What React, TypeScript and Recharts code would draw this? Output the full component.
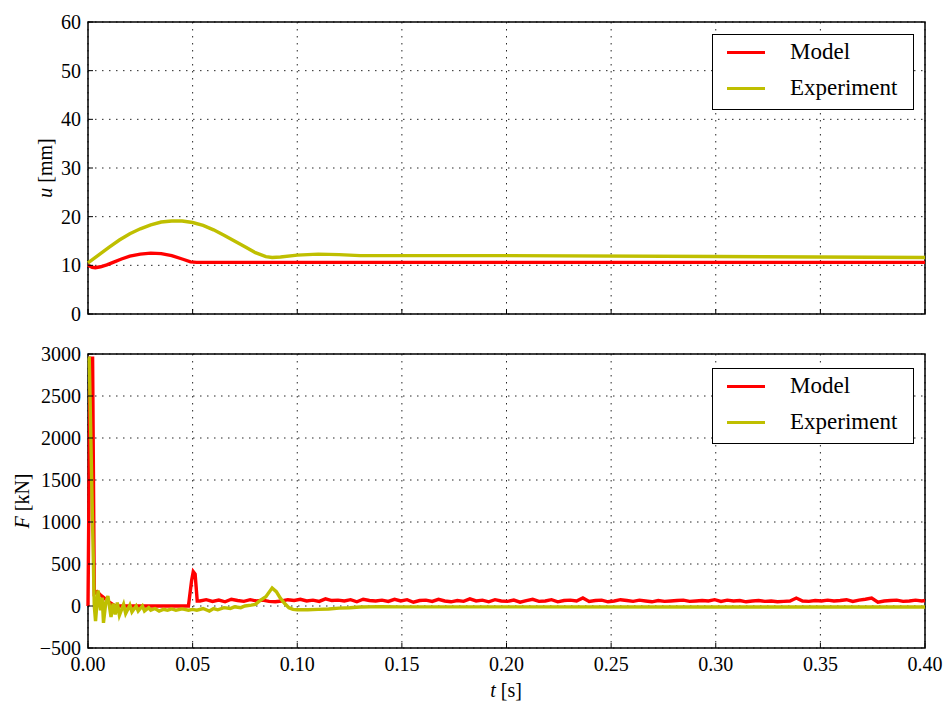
import React from 'react';
import { LineChart, Line, XAxis, YAxis, CartesianGrid, ReferenceArea } from 'recharts';

const FONT = 'Liberation Serif, DejaVu Serif, serif';
const RED = '#ff0000';
const YEL = '#bfbf00';
const LW = 3.4;

const xTicks = [0, 0.05, 0.1, 0.15, 0.2, 0.25, 0.3, 0.35, 0.4];
const uTicks = [0, 10, 20, 30, 40, 50, 60];
const fTicks = [-500, 0, 500, 1000, 1500, 2000, 2500, 3000];

// Top panel: displacement u [mm]
const uModelT = [0, 0.002, 0.0035, 0.006, 0.009, 0.012, 0.016, 0.02, 0.025, 0.03, 0.035, 0.04, 0.045, 0.049, 0.052, 0.1, 0.2, 0.3, 0.4];
const uModelV = [10.0, 9.6, 9.5, 9.7, 10.1, 10.6, 11.3, 11.9, 12.3, 12.5, 12.4, 12.0, 11.3, 10.7, 10.6, 10.6, 10.6, 10.6, 10.6];

const uExpT = [0, 0.005, 0.01, 0.015, 0.02, 0.025, 0.03, 0.035, 0.04, 0.045, 0.05, 0.055, 0.06, 0.065, 0.07, 0.075, 0.08, 0.085, 0.088, 0.092, 0.1, 0.11, 0.12, 0.13, 0.2, 0.3, 0.4];
const uExpV = [10.5, 12.1, 13.7, 15.2, 16.5, 17.5, 18.3, 18.9, 19.1, 19.1, 18.8, 18.2, 17.3, 16.2, 15.0, 13.8, 12.6, 11.8, 11.6, 11.7, 12.1, 12.3, 12.2, 12.0, 12.0, 11.8, 11.6];

// Bottom panel: force F [kN]
const fModelHeadT = [0, 0.001, 0.0022, 0.003, 0.0043, 0.006, 0.008, 0.01, 0.012, 0.013, 0.03, 0.048, 0.0495, 0.0503, 0.0512, 0.0522];
const fModelHeadV = [0, 2950, 2950, 150, 170, 130, 90, 50, 15, 0, 0, 0, 300, 410, 380, 60];
const fModelNoiseStart = 0.0535;
const fModelNoiseStep = 0.003;
const fModelNoiseV = [
  60, 75, 55, 70, 50, 80, 65, 55, 75, 60,
  70, 55, 50, 60, 75, 65, 80, 60, 70, 55,
  85, 65, 70, 60, 75, 50, 80, 65, 60, 70,
  55, 80, 60, 75, 45, 65, 70, 55, 80, 60,
  50, 65, 55, 85, 60, 70, 50, 75, 60, 55,
  70, 45, 65, 80, 55, 60, 75, 50, 65, 70,
  60, 95, 55, 65, 70, 50, 60, 75, 65, 55,
  70, 60, 50, 65, 55, 60, 65, 70, 55, 60,
  65, 60, 75, 55, 70, 60, 65, 50, 60, 65,
  55, 60, 50, 55, 60, 95, 60, 55, 65, 60,
  70, 60, 65, 75, 55, 70, 80, 95, 45, 60,
  65, 70, 55, 60, 70, 60,
];

const fExpT = [0, 0.0006, 0.002, 0.003, 0.0036, 0.0048, 0.006, 0.0068, 0.0074, 0.0085, 0.0095, 0.011, 0.012, 0.013, 0.014, 0.015, 0.017, 0.018, 0.02, 0.021, 0.023, 0.024, 0.026, 0.027, 0.029, 0.03, 0.032, 0.034, 0.036, 0.038, 0.04, 0.042, 0.045, 0.048, 0.05, 0.052, 0.055, 0.058, 0.06, 0.062, 0.065, 0.068, 0.07, 0.073, 0.075, 0.078, 0.08, 0.082, 0.085, 0.087, 0.088, 0.09, 0.092, 0.094, 0.096, 0.098, 0.1, 0.105, 0.11, 0.115, 0.12, 0.125, 0.13, 0.14, 0.15, 0.2, 0.3, 0.4];
const fExpV = [2950, 2950, 1200, 0, -180, 185, -50, 100, -200, 40, 120, -130, 30, -100, 40, -110, 20, -90, 10, -70, 0, -60, 0, -60, -20, -50, -30, -60, -40, -50, -35, -50, -35, -50, -40, -50, -30, -60, -30, -45, -20, -30, -10, -20, 0, 10, 20, 60, 110, 180, 215, 170, 90, 30, -20, -40, -45, -45, -40, -35, -25, -20, -12, -8, -10, -10, -12, -12];

const pairs = (ts: number[], vs: number[]) => ts.map((t, i) => ({ t, v: vs[i] }));

const uModelData = pairs(uModelT, uModelV);
const uExpData = pairs(uExpT, uExpV);
const fModelData = [
  ...pairs(fModelHeadT, fModelHeadV),
  ...fModelNoiseV.map((v, i) => ({ t: fModelNoiseStart + i * fModelNoiseStep, v })),
  { t: 0.4, v: 65 },
];
const fExpData = pairs(fExpT, fExpV);

const fmtF = (v: number) => (v < 0 ? '\u2212' + Math.abs(v) : String(v));
const fmtT = (v: number) => v.toFixed(2);
const fmtU = (v: number) => String(v);

const TICK = 5;
const Y_MARGIN = 7;
const X_MARGIN = 9;
const textStyle = { fontFamily: FONT, fontSize: 20 };

const LeftTick = (p: any, fmt: (v: number) => string) => (
  <g key={`l-${p.index}`}>
    <line x1={p.x + Y_MARGIN} x2={p.x + Y_MARGIN + TICK} y1={p.y} y2={p.y} stroke="#000" strokeWidth={1} />
    <text x={p.x} y={p.y} textAnchor="end" dominantBaseline="central" fontFamily={FONT} fontSize={20} fill="#000" style={textStyle}>
      {fmt(p.payload.value)}
    </text>
  </g>
);
const RightTick = (p: any) => (
  <line key={`r-${p.index}`} x1={p.x} x2={p.x - TICK} y1={p.y} y2={p.y} stroke="#000" strokeWidth={1} />
);
const BottomTick = (p: any, withLabel: boolean) => (
  <g key={`b-${p.index}`}>
    <line x1={p.x} x2={p.x} y1={p.y - X_MARGIN} y2={p.y - X_MARGIN - TICK} stroke="#000" strokeWidth={1} />
    {withLabel ? (
      <text x={p.x} y={p.y} dy="0.71em" textAnchor="middle" fontFamily={FONT} fontSize={20} fill="#000" style={textStyle}>
        {fmtT(p.payload.value)}
      </text>
    ) : null}
  </g>
);
const TopTick = (p: any) => (
  <line key={`t-${p.index}`} x1={p.x} x2={p.x} y1={p.y} y2={p.y + TICK} stroke="#000" strokeWidth={1} />
);

const LegendBox = ({ left, top }: { left: number; top: number }) => (
  <div
    style={{
      position: 'absolute', left, top, width: 202, height: 76, boxSizing: 'border-box',
      border: '1.5px solid #000', background: '#fff', fontFamily: FONT, fontSize: 23, color: '#000',
    }}
  >
    {[{ name: 'Model', c: RED, y: 17 }, { name: 'Experiment', c: YEL, y: 53 }].map((r) => (
      <React.Fragment key={r.name}>
        <div style={{ position: 'absolute', left: 14, top: r.y - 1.5, width: 38, height: 3, background: r.c }} />
        <div style={{ position: 'absolute', left: 77, top: r.y - 14, lineHeight: '28px', whiteSpace: 'nowrap' }}>{r.name}</div>
      </React.Fragment>
    ))}
  </div>
);

const gridProps = { stroke: '#000', strokeDasharray: '1.5 5.5', strokeWidth: 1, strokeOpacity: 0.85 };

const AxisTitle = ({ x, y, rotate, ital, rest }: { x: number; y: number; rotate: boolean; ital: string; rest: string }) => (
  <text x={x} y={y} transform={rotate ? `rotate(-90 ${x} ${y})` : undefined} textAnchor="middle" dominantBaseline="central"
    fontFamily={FONT} fontSize={20} fill="#000" style={textStyle}>
    <tspan fontStyle="italic">{ital}</tspan>{rest}
  </text>
);

export default function App() {
  return (
    <div style={{ position: 'absolute', left: 0, top: 0, width: 947, height: 704, background: '#fff', fontFamily: FONT }}>
      <div style={{ position: 'absolute', left: 0, top: 0 }}>
        <LineChart width={947} height={330} margin={{ top: 22, right: 22, bottom: 6, left: 28 }}>
          <CartesianGrid {...gridProps} xAxisId="b" yAxisId="l" />
          <XAxis xAxisId="b" dataKey="t" type="number" domain={[0, 0.4]} ticks={xTicks} height={10}
            tick={(p: any) => BottomTick(p, false)} tickLine={false} axisLine={false} tickSize={0} tickMargin={X_MARGIN}
            allowDuplicatedCategory={false} />
          <XAxis xAxisId="t" orientation="top" dataKey="t" type="number" domain={[0, 0.4]} ticks={xTicks} height={0}
            tick={TopTick} tickLine={false} axisLine={false} tickSize={0} tickMargin={0} allowDuplicatedCategory={false} />
          <YAxis yAxisId="l" type="number" domain={[0, 60]} ticks={uTicks} width={60}
            tick={(p: any) => LeftTick(p, fmtU)} tickLine={false} axisLine={false} tickSize={0} tickMargin={Y_MARGIN}
            label={{ content: () => <AxisTitle x={45} y={168} rotate ital="u" rest=" [mm]" /> }} />
          <YAxis yAxisId="r" orientation="right" type="number" domain={[0, 60]} ticks={uTicks} width={0}
            tick={RightTick} tickLine={false} axisLine={false} tickSize={0} tickMargin={0} />
          <Line xAxisId="b" yAxisId="l" data={uModelData} dataKey="v" type="linear" stroke={RED} strokeWidth={LW} dot={false} isAnimationActive={false} />
          <Line xAxisId="b" yAxisId="l" data={uExpData} dataKey="v" type="linear" stroke={YEL} strokeWidth={LW} dot={false} isAnimationActive={false} />
          <ReferenceArea xAxisId="b" yAxisId="l" x1={0} x2={0.4} y1={0} y2={60} fill="none" stroke="#000" strokeWidth={1.5} ifOverflow="visible" />
        </LineChart>
        <LegendBox left={712} top={34} />
      </div>
      <div style={{ position: 'absolute', left: 0, top: 330 }}>
        <LineChart width={947} height={374} margin={{ top: 24, right: 22, bottom: 0, left: 28 }}>
          <CartesianGrid {...gridProps} xAxisId="b" yAxisId="l" />
          <XAxis xAxisId="b" dataKey="t" type="number" domain={[0, 0.4]} ticks={xTicks} height={56}
            tick={(p: any) => BottomTick(p, true)} tickLine={false} axisLine={false}
            tickSize={0} tickMargin={X_MARGIN} allowDuplicatedCategory={false}
            label={{ content: () => <AxisTitle x={506} y={360} rotate={false} ital="t" rest=" [s]" /> }} />
          <XAxis xAxisId="t" orientation="top" dataKey="t" type="number" domain={[0, 0.4]} ticks={xTicks} height={0}
            tick={TopTick} tickLine={false} axisLine={false} tickSize={0} tickMargin={0} allowDuplicatedCategory={false} />
          <YAxis yAxisId="l" type="number" domain={[-500, 3000]} ticks={fTicks} width={60}
            tick={(p: any) => LeftTick(p, fmtF)} tickLine={false} axisLine={false} tickSize={0} tickMargin={Y_MARGIN}
            label={{ content: () => <AxisTitle x={22} y={171} rotate ital="F" rest=" [kN]" /> }} />
          <YAxis yAxisId="r" orientation="right" type="number" domain={[-500, 3000]} ticks={fTicks} width={0}
            tick={RightTick} tickLine={false} axisLine={false} tickSize={0} tickMargin={0} />
          <Line xAxisId="b" yAxisId="l" data={fModelData} dataKey="v" type="linear" stroke={RED} strokeWidth={LW} dot={false} isAnimationActive={false} />
          <Line xAxisId="b" yAxisId="l" data={fExpData} dataKey="v" type="linear" stroke={YEL} strokeWidth={LW} dot={false} isAnimationActive={false} />
          <ReferenceArea xAxisId="b" yAxisId="l" x1={0} x2={0.4} y1={-500} y2={3000} fill="none" stroke="#000" strokeWidth={1.5} ifOverflow="visible" />
        </LineChart>
        <LegendBox left={712} top={38} />
      </div>
    </div>
  );
}
